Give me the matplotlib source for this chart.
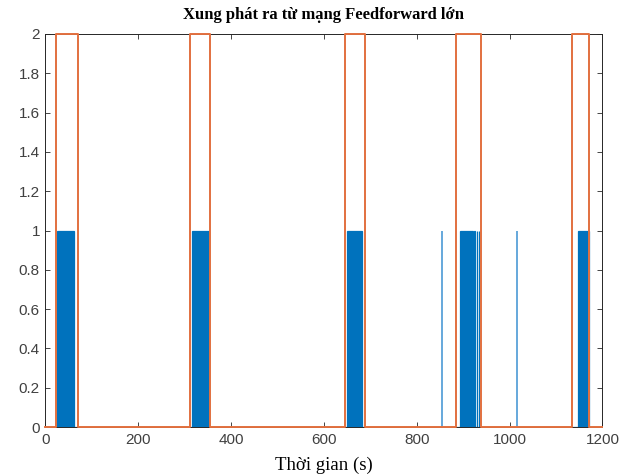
import matplotlib
matplotlib.use("Agg")
import matplotlib.pyplot as plt
import numpy as np

# Orange reference pulses (start, end) in seconds, amplitude 2
ref_start = [23, 311, 645, 884, 1135]
ref_end = [69, 354, 688, 938, 1172]
ref_amp = 2

# Blue output pulses (start, end) in seconds, amplitude 1
out_start = [24, 315, 649, 893, 924.3, 929.6, 933.6, 1148]
out_end = [62, 352, 683, 921.5, 925.0, 930.4, 934.2, 1171]
out_amp = 1

# Isolated blue spikes (time in seconds)
spike_t = [855, 1015]

x_ticks = [0, 200, 400, 600, 800, 1000, 1200]
y_ticks = [0, 0.2, 0.4, 0.6, 0.8, 1, 1.2, 1.4, 1.6, 1.8, 2]

title = "Xung phát ra từ mạng Feedforward lớn"
xlabel = "Thời gian (s)"

blue = "#0072BD"
blue_light = "#4C9AD6"
orange = "#E2703F"

fig = plt.figure(figsize=(6.23, 4.76), dpi=100)
ax = fig.add_axes([0.073, 0.1029, 0.894, 0.8257])

widths = [e - s for s, e in zip(out_start, out_end)]
ax.bar(out_start, [out_amp] * len(out_start), width=widths, align="edge",
       color=blue, edgecolor=blue, linewidth=0.9, zorder=2)
ax.vlines(spike_t, 0, out_amp, color=blue_light, lw=1.2, zorder=2)
ax.plot([0, 1200], [0, 0], color=blue, lw=0.9, zorder=2)

# orange step signal
t = [0]
y = [0]
for s, e in zip(ref_start, ref_end):
    t += [s, s, e, e]
    y += [0, ref_amp, ref_amp, 0]
t.append(1200)
y.append(0)
ax.plot(t, y, color=orange, lw=1.4, zorder=3, clip_on=False)

ax.set_xlim(0, 1200)
ax.set_ylim(0, 2)
ax.set_xticks(x_ticks)
ax.set_yticks(y_ticks)
ax.set_yticklabels([f"{v:g}" for v in y_ticks])
ax.tick_params(direction="in", top=True, right=True, length=3.5, width=0.6,
               colors="#262626", labelsize=11, pad=4)
for lab in ax.get_xticklabels() + ax.get_yticklabels():
    lab.set_fontfamily("Liberation Sans")
    lab.set_color("#404040")
for sp in ax.spines.values():
    sp.set_linewidth(0.7)
    sp.set_color("#262626")

ax.set_title(title, fontfamily="Liberation Serif", fontweight="bold",
             fontsize=12, pad=11)
ax.set_xlabel(xlabel, fontfamily="Liberation Serif", fontsize=13.5, labelpad=7)

fig.savefig("out.png", dpi=100)
